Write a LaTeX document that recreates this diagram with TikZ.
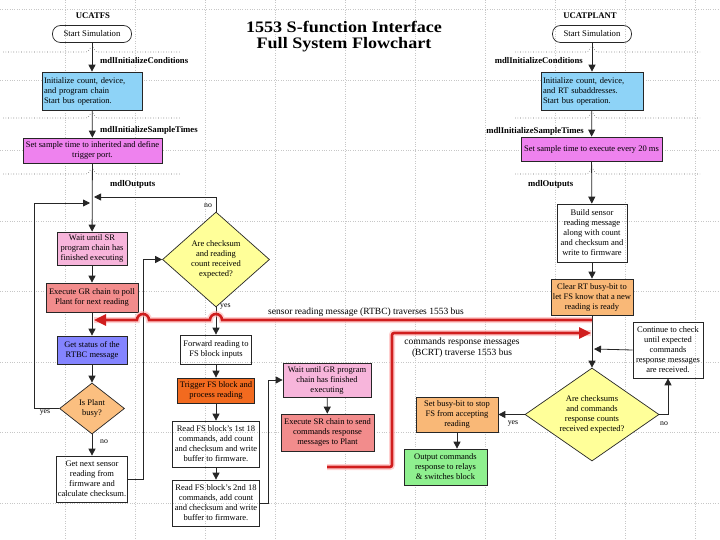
\documentclass[tikz,border=0pt]{standalone}
\usepackage{fontspec}
\setmainfont{Liberation Serif}
\newfontfamily\titlefont[FakeStretch=1.13]{Liberation Serif}
\usetikzlibrary{arrows.meta,shapes.geometric}
\definecolor{skyb}{HTML}{8ED3F7}
\definecolor{violetb}{HTML}{EE82EE}
\definecolor{pinkb}{HTML}{F7B5DB}
\definecolor{salmonb}{HTML}{F28C8C}
\definecolor{statb}{HTML}{8484FF}
\definecolor{peachb}{HTML}{FBBF80}
\definecolor{trigb}{HTML}{F26A1F}
\definecolor{orangeb}{HTML}{F9B877}
\definecolor{yellowb}{HTML}{FFFF99}
\definecolor{greenb}{HTML}{8FF08F}
\definecolor{busred}{HTML}{D01E1E}
\newcommand\mysep[4]{%
  \draw[sepl] (#2,#1) -- ({#4-6},#1) .. controls ({#4-3},#1) and ({#4-2},{#1-4}) .. ({#4-1},{#1-5});
  \draw[sepl] ({#4+1},{#1-5}) .. controls ({#4+2},{#1-4}) and ({#4+3},#1) .. ({#4+6},#1) -- (#3,#1);}
\begin{document}
\begin{tikzpicture}[x=1pt,y=-1pt,
  box/.style={draw=black!85, line width=0.7pt, align=center, inner sep=1pt,
    font=\fontsize{8.5}{10}\selectfont},
  dtext/.style={align=center, inner sep=0pt, font=\fontsize{8.5}{10}\selectfont},
  dia/.style={diamond, draw=black!85, line width=0.7pt, inner sep=0pt, fill=yellowb},
  arr/.style={draw=black!85, line width=0.8pt, -{Triangle[length=7pt,width=7pt]}},
  sepl/.style={draw=black!60, dotted, line width=0.6pt},
  gridl/.style={draw=black!22, dotted, line width=0.4pt},
  lab/.style={font=\fontsize{8.7}{9}\selectfont\bfseries, inner sep=0pt},
  clab/.style={font=\fontsize{7.8}{9}\selectfont, inner sep=0pt},
  busl/.style={draw=busred, line width=2.6pt},
  glow/.style={draw=red!30, line width=6pt, opacity=0.6},
  buslab/.style={font=\fontsize{9.5}{11}\selectfont, align=center, inner sep=0pt}]
\useasboundingbox (0,0) rectangle (720,540);
\fill[white] (0,0) rectangle (720,540);
% faint grid
\foreach \gx in {65,135,205,275,345,415,485,555,625,695}
  \draw[gridl] (\gx,0) -- (\gx,540);
\foreach \gy in {9.5,80,150.5,221,291.5,362,432.5,503}
  \draw[gridl] (0,\gy) -- (720,\gy);

% title
\node[font=\fontsize{16}{16}\selectfont\titlefont\bfseries, align=center] (title) at (344,37) {1553 S-function Interface\\Full System Flowchart};

% separators
\mysep{52}{3}{180}{92}
\mysep{118}{3}{180}{92}
\mysep{174}{3}{180}{92}
\mysep{52}{515}{700}{592}
\mysep{118}{515}{700}{592}
\mysep{174}{515}{700}{592}

% ---------- left column (UCATFS)
\node[font=\fontsize{8.7}{10}\selectfont\bfseries] (ttlL) at (93,16) {UCATFS};
\node[box, rounded corners=8pt, minimum width=79pt, minimum height=17pt, font=\fontsize{8.7}{10}\selectfont] (startL) at (92,34) {Start Simulation};
\node[box, fill=skyb, text width=96pt, align=left, minimum height=38pt, inner sep=2pt] (initL) at (92,91) {Initialize count, device,\\and program chain\\Start bus operation.};
\node[box, fill=violetb, minimum width=139pt, minimum height=25pt] (setL) at (92.5,150.5) {Set sample time to inherited and define\\trigger port.};
\node[box, fill=pinkb, minimum width=70pt, minimum height=33pt] (waitSR) at (92,248.5) {Wait until SR\\program chain has\\finished executing};
\node[box, fill=salmonb, minimum width=92pt, minimum height=29pt] (execGR) at (92,297.5) {Execute GR chain to poll\\Plant for next reading};
\node[box, fill=statb, minimum width=70pt, minimum height=28pt] (getstat) at (92,350) {Get status of the\\RTBC message};
\node[dia, fill=peachb, minimum width=65pt, minimum height=51pt] (busy) at (92,408.5) {};
\node[dtext] (busyt) at (busy) {Is Plant\\busy?};
\node[box, minimum width=70pt, minimum height=46pt] (getnext) at (92,479) {Get next sensor\\reading from\\firmware and\\calculate checksum.};

\node[lab, anchor=west] (l1) at (100,61) {mdlInitializeConditions};
\node[lab, anchor=west] (l2) at (100,130) {mdlInitializeSampleTimes};
\node[lab, anchor=west] (l3) at (110,184) {mdlOutputs};

\coordinate (jr) at (94,197);
\coordinate (jl) at (90,203);
\coordinate (c1) at (34,203);

\draw[arr] (startL) -- (initL);
\draw[arr] (initL) -- (setL);
\draw[arr] (setL) -- (waitSR);
\draw[arr] (waitSR) -- (execGR);
\draw[arr] (execGR) -- (getstat);
\draw[arr] (getstat) -- (busy);
\draw[arr] (busy) -- (getnext);
\draw[arr] (busy.west) -| (c1) -- (jl);

% ---------- centre column
\node[dia, minimum width=107pt, minimum height=95pt] (chk) at (216,259.5) {};
\node[dtext] (chkt) at (chk) {Are checksum\\and reading\\count received\\expected?};
\node[box, minimum width=71pt, minimum height=29pt] (fwd) at (216,349.5) {Forward reading to\\FS block inputs};
\node[box, fill=trigb, minimum width=77pt, minimum height=25pt] (trig) at (216,390.5) {Trigger FS block and\\process reading};
\node[box, minimum width=87pt, minimum height=46pt] (rd1) at (216,444) {Read FS block's 1st 18\\commands, add count\\and checksum and write\\buffer to firmware.};
\node[box, minimum width=87pt, minimum height=46pt] (rd2) at (216,503) {Read FS block's 2nd 18\\commands, add count\\and checksum and write\\buffer to firmware.};
\node[box, fill=pinkb, minimum width=88pt, minimum height=34pt] (waitGR) at (327,380) {Wait until GR program\\chain has finished\\executing};
\node[box, fill=salmonb, minimum width=93pt, minimum height=37pt] (execSR) at (327.5,432.5) {Execute SR chain to send\\commands response\\messages to Plant};

\draw[arr] (chk.north) |- (jr);
\draw[arr] (getnext.east) -- ++(16,0) |- (chk.west);
\draw[arr] (chk) -- (fwd);
\draw[arr] (fwd) -- (trig);
\draw[arr] (trig) -- (rd1);
\draw[arr] (rd1) -- (rd2);
\draw[arr] (rd2.east) -- ++(9,0) |- (waitGR.west);
\draw[arr] (waitGR) -- (execSR);

\node[clab, anchor=west] (nol) at (204,206) {no};
\node[clab, anchor=west] (yesc) at (220,307) {yes};
\node[clab] (yesl) at (45,413) {yes};
\node[clab] (nob) at (104,442) {no};

% ---------- right column (UCATPLANT)
\node[font=\fontsize{8.7}{10}\selectfont\bfseries] (ttlR) at (590,16) {UCATPLANT};
\node[box, rounded corners=8pt, minimum width=79pt, minimum height=17pt, font=\fontsize{8.7}{10}\selectfont] (startR) at (592,34) {Start Simulation};
\node[box, fill=skyb, text width=98pt, align=left, minimum height=38pt, inner sep=2pt] (initR) at (592,91) {Initialize count, device,\\and RT subaddresses.\\Start bus operation.};
\node[box, fill=violetb, minimum width=141pt, minimum height=24pt] (setR) at (591.5,149) {Set sample time to execute every 20 ms};
\node[box, minimum width=70pt, minimum height=58pt] (build) at (592,233) {Build sensor\\reading message\\along with count\\and checksum and\\write to firmware};
\node[box, fill=orangeb, minimum width=82pt, minimum height=36pt] (clear) at (592,297) {Clear RT busy-bit to\\let FS know that a new\\reading is ready};
\node[box, minimum width=70pt, minimum height=56pt] (cont) at (668,350) {Continue to check\\until expected\\commands\\response messages\\are received.};
\node[dia, minimum width=134pt, minimum height=93pt] (chk2) at (592,414.5) {};
\node[dtext] (chk2t) at (chk2) {Are checksums\\and commands\\response counts\\received expected?};
\node[box, fill=orangeb, minimum width=82pt, minimum height=35pt] (sbusy) at (457,414.5) {Set busy-bit to stop\\FS from accepting\\reading};
\node[box, fill=greenb, minimum width=83pt, minimum height=36pt] (outp) at (445.5,467) {Output commands\\response to relays\\\& switches block};

\node[lab, anchor=east] (r1) at (583,61) {mdlInitializeConditions};
\node[lab, anchor=east] (r2) at (584,131) {mdlInitializeSampleTimes};
\node[lab, anchor=west] (r3) at (528,184) {mdlOutputs};

\coordinate (jc) at (594,349);

\draw[arr] (startR) -- (initR);
\draw[arr] (initR) -- (setR);
\draw[arr] (setR) -- (build);
\draw[arr] (build) -- (clear);
\draw[arr] (clear) -- (chk2);
\draw[arr] (cont.west) -- (jc);
\draw[arr] (chk2.east) -| (cont.south);
\draw[arr] (chk2.west) -- (sbusy.east);
\draw[arr] (sbusy.south) -- (sbusy.south |- outp.north);

\node[clab] (yesr) at (513,424) {yes};
\node[clab] (nor) at (664,424) {no};

% ---------- 1553 bus messages
\coordinate (rtbcR) at (592,320);
\coordinate (rtbcL) at (94,320);
\coordinate (bcrtS) at (327,467);
\coordinate (bcrtE) at (591,333);
\draw[glow] (rtbcR) -- (222,320) arc[start angle=0,end angle=180,radius=6pt] -- (149,320) arc[start angle=0,end angle=180,radius=6pt] -- (rtbcL);
\draw[glow, rounded corners=2pt] (bcrtS) -- (392,467) -- (392,333) -- (bcrtE);
\draw[busl, -{Triangle[length=12pt,width=11pt]}] (rtbcR) -- (222,320) arc[start angle=0,end angle=180,radius=6pt] -- (149,320) arc[start angle=0,end angle=180,radius=6pt] -- (rtbcL);
\draw[busl, rounded corners=2pt, -{Triangle[length=12pt,width=11pt]}] (bcrtS) -- (392,467) -- (392,333) -- (bcrtE);

\node[buslab] (rtbcLab) at (366,312) {sensor reading message (RTBC) traverses 1553 bus};
\node[buslab] (bcrtLab) at (462,347.5) {commands response messages\\(BCRT) traverse 1553 bus};
\end{tikzpicture}
\end{document}
